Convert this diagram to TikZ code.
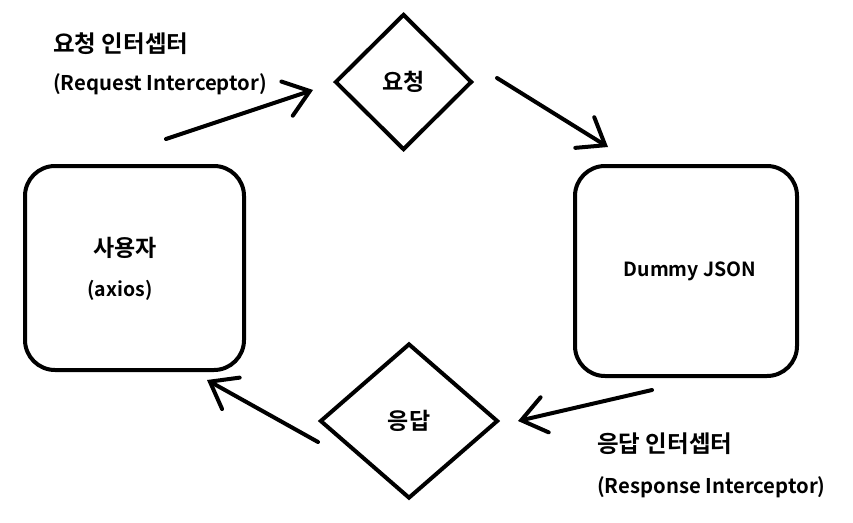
\documentclass[tikz,border=0pt]{standalone}
\usepackage{fontspec}
\setmainfont{Noto Sans CJK KR}[BoldFont={Noto Sans CJK KR Bold}]
\usetikzlibrary{shapes.geometric, arrows.meta, positioning}

\tikzset{
  box/.style={draw, line width=4pt, rounded corners=30pt, align=center},
  choice/.style={draw, diamond, line width=4pt, inner sep=0pt, font=\bfseries\fontsize{23}{27}\selectfont},
  flow/.style={line width=4pt, line cap=round, -{Straight Barb[length=24pt, width=36pt, line cap=round]}},
  hangul/.style={font=\bfseries\fontsize{23.5}{27}\selectfont, anchor=west, inner sep=0pt},
  latin/.style={font=\bfseries\fontsize{20.3}{24}\selectfont, anchor=west, inner sep=0pt}
}

\begin{document}
\begin{tikzpicture}[x=1pt, y=-1pt]
  \useasboundingbox (0,0) rectangle (853,522);

  % client and server
  \node[box, minimum width=219pt, minimum height=204pt] (user) at (134.5,268) {};
  \node[font=\bfseries\fontsize{23}{27}\selectfont] (usertxt) at (125,248) {사용자};
  \node[font=\bfseries\fontsize{19.5}{23}\selectfont] (axios) at (120,290) {(axios)};
  \node[box, minimum width=222pt, minimum height=210pt] (dummy) at (686,271) {};
  \node[font=\bfseries\fontsize{19.5}{23}\selectfont] (dummytxt) at (690,271) {Dummy JSON};

  % request / response
  \node[choice, minimum width=137pt, minimum height=136pt] (req) at (403.5,82) {요청};
  \node[choice, minimum width=178pt, minimum height=155pt] (res) at (409,421) {응답};

  % interceptor labels
  \node[hangul] (reqlbl) at (53,44) {요청 인터셉터};
  \node[latin] (reqsub) at (53,84) {(Request Interceptor)};
  \node[hangul] (reslbl) at (597,444) {응답 인터셉터};
  \node[latin] (ressub) at (597,487) {(Response Interceptor)};

  % arrow ends
  \coordinate (a1) at (166,139);
  \coordinate (b1) at (313,90);
  \coordinate (a2) at (497,78);
  \coordinate (b2) at (608,147);
  \coordinate (a3) at (652,390);
  \coordinate (b3) at (518,421);
  \coordinate (a4) at (318,442);
  \coordinate (b4) at (207,380);

  \draw[flow] (a1) -- (b1);
  \draw[flow] (a2) -- (b2);
  \draw[flow] (a3) -- (b3);
  \draw[flow] (a4) -- (b4);
\end{tikzpicture}
\end{document}
